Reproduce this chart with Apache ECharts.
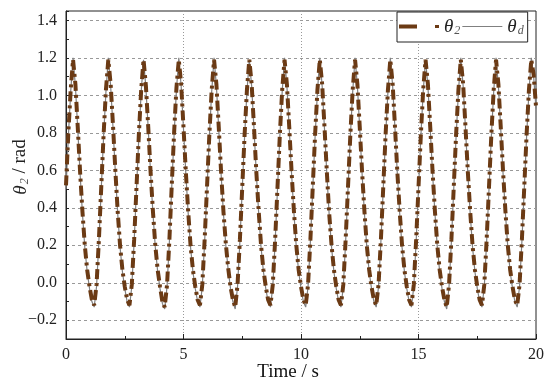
<!DOCTYPE html>
<html>
<head>
<meta charset="utf-8">
<script src="https://cdn.jsdelivr.net/npm/echarts@6/dist/echarts.min.js"></script>
<style>
html,body{margin:0;padding:0;background:#fff;}
#chart{width:550px;height:387px;}
</style>
</head>
<body>
<div id="chart"></div>
<script>
// Time samples (s)
const timeS = [
  0,0.1,0.2,
  0.3,0.4,0.5,0.6,0.7,0.8,0.9,1.0,1.1,1.2,1.3,1.4,1.5,1.6,1.7,
  1.8,1.9,2.0,2.1,2.2,2.3,2.4,2.5,2.6,2.7,2.8,2.9,3.0,3.1,3.2,
  3.3,3.4,3.5,3.6,3.7,3.8,3.9,4.0,4.1,4.2,4.3,4.4,4.5,4.6,4.7,
  4.8,4.9,5.0,5.1,5.2,5.3,5.4,5.5,5.6,5.7,5.8,5.9,6.0,6.1,6.2,
  6.3,6.4,6.5,6.6,6.7,6.8,6.9,7.0,7.1,7.2,7.3,7.4,7.5,7.6,7.7,
  7.8,7.9,8.0,8.1,8.2,8.3,8.4,8.5,8.6,8.7,8.8,8.9,9.0,9.1,9.2,
  9.3,9.4,9.5,9.6,9.7,9.8,9.9,10.0,10.1,10.2,10.3,10.4,10.5,10.6,10.7,
  10.8,10.9,11.0,11.1,11.2,11.3,11.4,11.5,11.6,11.7,11.8,11.9,12.0,12.1,12.2,
  12.3,12.4,12.5,12.6,12.7,12.8,12.9,13.0,13.1,13.2,13.3,13.4,13.5,13.6,13.7,
  13.8,13.9,14.0,14.1,14.2,14.3,14.4,14.5,14.6,14.7,14.8,14.9,15.0,15.1,15.2,
  15.3,15.4,15.5,15.6,15.7,15.8,15.9,16.0,16.1,16.2,16.3,16.4,16.5,16.6,16.7,
  16.8,16.9,17.0,17.1,17.2,17.3,17.4,17.5,17.6,17.7,17.8,17.9,18.0,18.1,18.2,
  18.3,18.4,18.5,18.6,18.7,18.8,18.9,19.0,19.1,19.2,19.3,19.4,19.5,19.6,19.7,
  19.8,19.9,20.0
];

// Desired trajectory theta_d (rad)
const thetaD = [
  0.50,0.78,1.02,
  1.20,1.05,0.82,0.58,0.37,0.19,0.06,-0.03,-0.10,-0.13,-0.02,0.22,0.50,0.78,1.02,
  1.20,1.05,0.83,0.59,0.37,0.19,0.06,-0.03,-0.10,-0.13,-0.02,0.22,0.50,0.78,1.02,
  1.19,1.04,0.82,0.58,0.37,0.19,0.06,-0.03,-0.11,-0.14,-0.02,0.22,0.51,0.79,1.03,
  1.20,1.05,0.82,0.58,0.37,0.19,0.06,-0.03,-0.10,-0.13,-0.02,0.22,0.50,0.78,1.02,
  1.20,1.05,0.82,0.58,0.37,0.20,0.07,-0.03,-0.10,-0.14,-0.02,0.22,0.50,0.78,1.02,
  1.19,1.05,0.82,0.58,0.37,0.19,0.06,-0.03,-0.10,-0.13,-0.02,0.22,0.50,0.78,1.02,
  1.20,1.05,0.82,0.58,0.37,0.19,0.06,-0.03,-0.10,-0.13,-0.02,0.22,0.50,0.78,1.02,
  1.20,1.05,0.82,0.58,0.36,0.19,0.06,-0.03,-0.10,-0.13,-0.02,0.22,0.50,0.78,1.02,
  1.20,1.05,0.82,0.58,0.37,0.19,0.06,-0.03,-0.10,-0.13,-0.02,0.22,0.50,0.78,1.02,
  1.20,1.05,0.82,0.58,0.37,0.19,0.06,-0.03,-0.10,-0.13,-0.02,0.22,0.50,0.78,1.02,
  1.19,1.05,0.82,0.58,0.37,0.19,0.06,-0.03,-0.10,-0.14,-0.02,0.22,0.50,0.78,1.02,
  1.20,1.05,0.82,0.58,0.37,0.19,0.06,-0.03,-0.10,-0.13,-0.02,0.22,0.50,0.78,1.02,
  1.20,1.05,0.82,0.58,0.37,0.19,0.06,-0.03,-0.10,-0.13,-0.02,0.22,0.50,0.78,1.02,
  1.20,1.10,0.93
];

// Actual joint angle theta_2 (rad)
const theta2 = [
  0.52,0.80,1.03,
  1.19,1.06,0.83,0.59,0.38,0.20,0.07,-0.02,-0.09,-0.12,-0.01,0.23,0.51,0.79,1.03,
  1.19,1.06,0.84,0.60,0.38,0.20,0.07,-0.02,-0.09,-0.12,-0.01,0.23,0.51,0.79,1.03,
  1.19,1.05,0.83,0.59,0.38,0.20,0.07,-0.02,-0.10,-0.13,-0.01,0.23,0.52,0.80,1.04,
  1.19,1.06,0.83,0.59,0.38,0.20,0.07,-0.02,-0.09,-0.12,-0.01,0.23,0.51,0.79,1.03,
  1.19,1.06,0.83,0.59,0.38,0.21,0.08,-0.02,-0.09,-0.13,-0.01,0.23,0.51,0.79,1.03,
  1.19,1.06,0.83,0.59,0.38,0.20,0.07,-0.02,-0.09,-0.12,-0.01,0.23,0.51,0.79,1.03,
  1.19,1.06,0.83,0.59,0.38,0.20,0.07,-0.02,-0.09,-0.12,-0.01,0.23,0.51,0.79,1.03,
  1.19,1.06,0.83,0.59,0.37,0.20,0.07,-0.02,-0.09,-0.12,-0.01,0.23,0.51,0.79,1.03,
  1.19,1.06,0.83,0.59,0.38,0.20,0.07,-0.02,-0.09,-0.12,-0.01,0.23,0.51,0.79,1.03,
  1.19,1.06,0.83,0.59,0.38,0.20,0.07,-0.02,-0.09,-0.12,-0.01,0.23,0.51,0.79,1.03,
  1.19,1.06,0.83,0.59,0.38,0.20,0.07,-0.02,-0.09,-0.13,-0.01,0.23,0.51,0.79,1.03,
  1.19,1.06,0.83,0.59,0.38,0.20,0.07,-0.02,-0.09,-0.12,-0.01,0.23,0.51,0.79,1.03,
  1.19,1.06,0.83,0.59,0.38,0.20,0.07,-0.02,-0.09,-0.12,-0.01,0.23,0.51,0.79,1.03,
  1.19,1.11,0.94
];

const xTicks = [0, 5, 10, 15, 20];
const yTickLabels = [-0.2, 0.0, 0.2, 0.4, 0.6, 0.8, 1.0, 1.2, 1.4];

const serif = '"Liberation Serif","Times New Roman",serif';
const chart = echarts.init(document.getElementById('chart'), null, {renderer: 'canvas'});

const d2 = timeS.map((t, i) => [t, theta2[i]]);
const dd = timeS.map((t, i) => [t, thetaD[i]]);

const thetaRich = {
  t: {fontFamily: serif, fontStyle: 'italic', fontSize: 19, color: '#222'},
  s: {fontFamily: serif, fontStyle: 'italic', fontSize: 12, color: '#555', padding: [9, 0, 0, 1]}
};

chart.setOption({
  animation: false,
  backgroundColor: '#fff',
  grid: {left: 66, right: 14, top: 11, bottom: 48, containLabel: false, outerBoundsMode: 'none',
    show: true, borderColor: '#222', borderWidth: 1, backgroundColor: 'transparent'},
  legend: {
    left: 397, top: 12,
    backgroundColor: '#fff', borderColor: '#222', borderWidth: 1,
    padding: [5, 4, 5, 2], itemGap: 2, itemWidth: 40, itemHeight: 6,
    data: [
      {name: 'θ2', icon: 'path://M0,0H18V4H0Z M36,0.6H40V3.4H36Z'},
      {name: 'θd', icon: 'path://M0,0H40V1H0Z'}
    ],
    formatter: n => n === 'θ2' ? '{t|θ}{s|2}' : '{t|θ}{s|d}',
    textStyle: {rich: thetaRich}
  },
  xAxis: {
    type: 'value', min: 0, max: 20, interval: 5,
    axisLine: {show: true, onZero: false, lineStyle: {color: '#222', width: 1}},
    axisTick: {show: true, inside: true, length: 5, lineStyle: {color: '#222'}},
    minorTick: {show: true, splitNumber: 2, length: 3, lineStyle: {color: '#222'}},
    axisLabel: {fontFamily: serif, fontSize: 16, color: '#222', margin: 8,
      formatter: v => xTicks.indexOf(v) >= 0 ? String(v) : ''},
    splitLine: {show: true, showMinLine: false, showMaxLine: false, lineStyle: {color: '#999', type: [1, 2], width: 1}},
    name: 'Time / s', nameLocation: 'middle', nameGap: 24, nameMoveOverlap: false,
    nameTextStyle: {fontFamily: serif, fontSize: 19, color: '#111', padding: [0, 26, 0, 0]}
  },
  yAxis: {
    type: 'value', min: -0.3, max: 1.45, interval: 0.1,
    axisLine: {show: true, onZero: false, lineStyle: {color: '#222', width: 1}},
    axisTick: {show: true, inside: true, length: 3, lineStyle: {color: '#222'}},
    axisLabel: {fontFamily: serif, fontSize: 16, color: '#222', margin: 9,
      formatter: v => {
        const r = Math.round(v * 10) / 10;
        const hit = yTickLabels.find(x => Math.abs(x - v) < 1e-6);
        if (hit === undefined) return '';
        return (r < 0 ? '\u2212' + Math.abs(r).toFixed(1) : r.toFixed(1));
      }},
    splitLine: {show: true, lineStyle: {color: ['rgba(0,0,0,0)', '#999'], type: [3, 3], width: 1}},
    name: '{t|θ}{s|2}{r| / rad}', nameLocation: 'middle', nameGap: 35, nameRotate: 90, nameMoveOverlap: false,
    nameTextStyle: {padding: [0, 0, 0, 16], rich: {
      t: {fontFamily: serif, fontStyle: 'italic', fontSize: 19, color: '#222'},
      s: {fontFamily: serif, fontStyle: 'italic', fontSize: 12, color: '#555', padding: [9, 0, 0, 1]},
      r: {fontFamily: serif, fontSize: 19, color: '#222'}
    }}
  },
  series: [
    {
      name: 'θ2', type: 'line', data: d2, showSymbol: false, symbol: 'none', z: 3,
      itemStyle: {color: '#6b3a14'},
      lineStyle: {color: '#6b3a14', width: 4, type: [10, 4, 3, 4], cap: 'butt'}
    },
    {
      name: 'θd', type: 'line', data: dd, showSymbol: false, symbol: 'none', z: 2,
      itemStyle: {color: '#808080'},
      lineStyle: {color: '#808080', width: 1.2}
    }
  ]
});
</script>
</body>
</html>
